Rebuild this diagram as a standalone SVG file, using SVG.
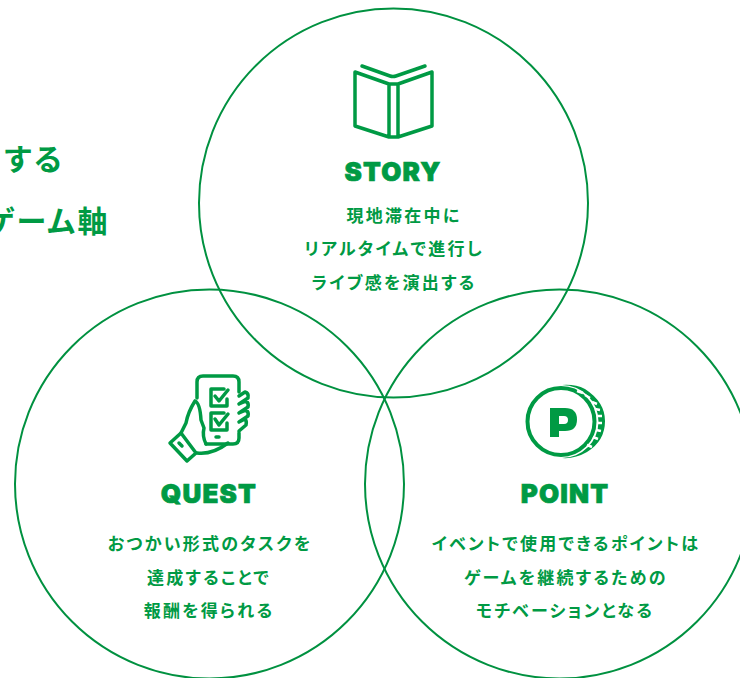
<svg xmlns="http://www.w3.org/2000/svg" width="740" height="678" viewBox="0 0 740 678">
<style>
.c{fill:none;stroke:#009140;stroke-width:2}
.i{fill:none;stroke:#009a44;stroke-width:3.5;stroke-linejoin:round;stroke-linecap:round}
.h{font-family:"Inter","Liberation Sans",sans-serif;font-weight:900;font-size:26px;fill:#009a44;stroke:#009a44;stroke-width:.7;text-anchor:middle;letter-spacing:1.2px}
.b{font-family:"Noto Sans CJK JP","Noto Sans",sans-serif;font-weight:700;font-size:17px;letter-spacing:2.25px;fill:#009a44;text-anchor:middle;font-feature-settings:"palt"}
.t{font-family:"Noto Sans CJK JP","Noto Sans",sans-serif;font-weight:700;font-size:30px;letter-spacing:2.5px;fill:#009a44;text-anchor:end;font-feature-settings:"palt"}
</style>
<rect width="740" height="678" fill="#fff"/>
<g id="intro"><text class="t" x="64" y="170">する</text><text class="t" x="110" y="232">ゲーム軸</text></g>
<g id="connectors"></g>
<g id="story">
<circle class="c" cx="393.5" cy="203" r="194.5"/>
<path class="i" d="M362 66 L390 76 Q393 77 396 76 L425 66"/>
<path class="i" d="M355 72 L389 84 H398 L432 72 V126 L398 137 H389 L355 126 Z M389 84 V137 M398 84 V137"/>
<text class="h" x="393" y="180.500">STORY</text>
<text class="b" x="404" y="222">現地滞在中に</text>
<text class="b" x="394" y="255">リアルタイムで進行し</text>
<text class="b" x="394" y="289">ライブ感を演出する</text>
</g>
<g id="quest">
<circle class="c" cx="209.500" cy="484" r="194.5"/>
<path class="i" d="M197 398 V382 Q197 376 203 376 H233 Q239 376 239 382 V392 M239 433 V438 Q239 444 233 444 H206"/>
<path class="i" d="M224 389 H211 V406 H227 V399 M215 396 L219 401 L228 390"/>
<path class="i" d="M224 413 H211 V430 H227 V423 M215 419 L219 425 L228 414"/>
<path class="i" d="M216 437 H219"/>
<path class="i" d="M195 401 Q188 412 186 423 L181 433 M195 401 Q200 403 201 420 L204 428 Q202 436 206 444 M197 453 Q212 455 228 443"/>
<path class="i" d="M170 443 L181 433 L196 453 L187 461 Z M179 443 L182 446"/>
<path class="i" d="M239 396 L245 392 Q249 393 248 398 L239 404 M239 404 L246 401 Q249 403 248 407 L239 413 M239 413 L246 410 Q249 412 248 416 L239 422 M239 422 L245 419 Q247 421 246 425 L239 431"/>
<text class="h" x="209" y="502.500">QUEST</text>
<text class="b" x="210" y="550">おつかい形式のタスクを</text>
<text class="b" x="209" y="584">達成することで</text>
<text class="b" x="209" y="617">報酬を得られる</text>
</g>
<g id="point">
<circle class="c" cx="559.5" cy="484" r="194.5"/>
<path fill="#009a44" d="M562 385 Q575 384 585 389 Q605 402 605 421 Q605 441 587 452 Q575 459 562 458 A36.5 36.5 0 0 0 562 385 Z"/>
<circle cx="561" cy="421.5" r="33.5" fill="#fff" stroke="#009a44" stroke-width="4"/>
<path d="M577 391 L583 393 M585 395 L590 398 M592 402 L597 404 M595 409 L600 410 M597 416 L602 416 M597 423 L602 423 M596 430 L601 431 M593 437 L598 439 M587 445 L592 447" fill="none" stroke="#fff" stroke-width="2.5"/>
<path fill-rule="evenodd" fill="#009a44" d="M550 408 H565 Q577 408 577 419.5 Q577 431 565 431 H559 V437 H550 Z M559 416 V424 H564 Q568 424 568 420 Q568 416 564 416 Z"/>
<text class="h" x="565" y="502.500">POINT</text>
<text class="b" x="566" y="550">イベントで使用できるポイントは</text>
<text class="b" x="566" y="584">ゲームを継続するための</text>
<text class="b" x="565" y="617">モチベーションとなる</text>
</g>
</svg>
